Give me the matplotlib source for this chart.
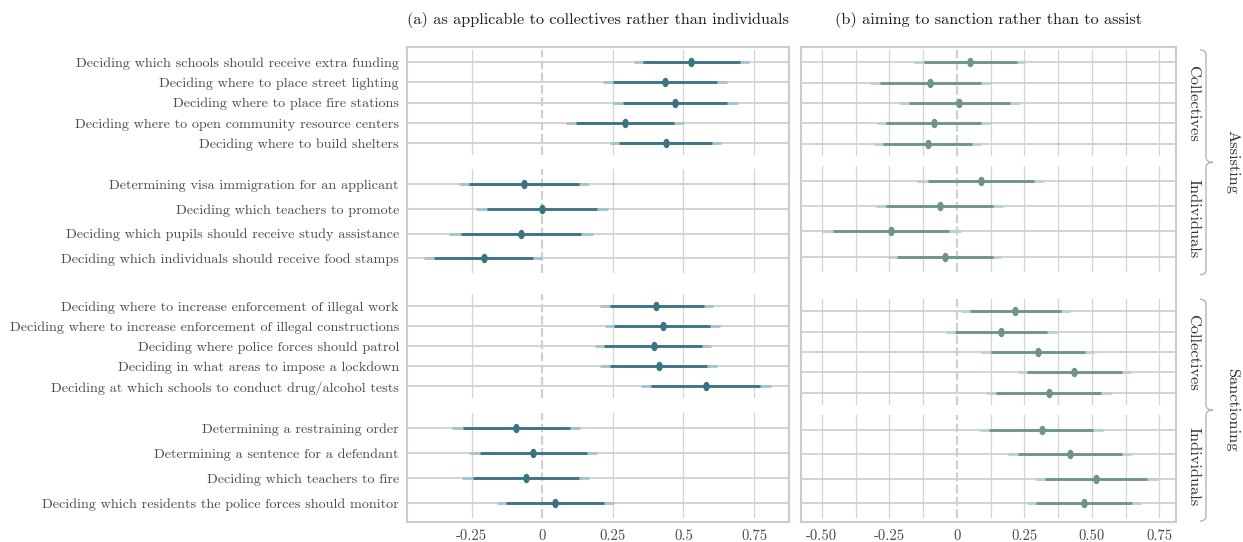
import numpy as np
import matplotlib
matplotlib.use("Agg")
import matplotlib.pyplot as plt
from matplotlib.path import Path
from matplotlib.patches import PathPatch

plt.rcParams['font.family'] = ['cmr10', 'DejaVu Serif']
plt.rcParams['axes.unicode_minus'] = False

# ---------------- data ----------------
tasks = [
    "Deciding which schools should receive extra funding",
    "Deciding where to place street lighting",
    "Deciding where to place fire stations",
    "Deciding where to open community resource centers",
    "Deciding where to build shelters",
    "Determining visa immigration for an applicant",
    "Deciding which teachers to promote",
    "Deciding which pupils should receive study assistance",
    "Deciding which individuals should receive food stamps",
    "Deciding where to increase enforcement of illegal work",
    "Deciding where to increase enforcement of illegal constructions",
    "Deciding where police forces should patrol",
    "Deciding in what areas to impose a lockdown",
    "Deciding at which schools to conduct drug/alcohol tests",
    "Determining a restraining order",
    "Determining a sentence for a defendant",
    "Deciding which teachers to fire",
    "Deciding which residents the police forces should monitor",
]
group_sizes = [5, 4, 5, 4]
domains = ["Assisting", "Sanctioning"]
targets = ["Collectives", "Individuals"]

titles = ["(a) as applicable to collectives rather than individuals",
          "(b) aiming to sanction rather than to assist"]

# panel (a): collective vs individual
a_mid = [0.528, 0.435, 0.470, 0.293, 0.437, -0.066, -0.001, -0.076, -0.208,
         0.404, 0.426, 0.394, 0.413, 0.579, -0.093, -0.033, -0.059, 0.046]
a_in_lo = [0.356, 0.249, 0.285, 0.118, 0.273, -0.260, -0.197, -0.290, -0.384,
           0.238, 0.255, 0.220, 0.239, 0.385, -0.283, -0.223, -0.247, -0.129]
a_in_hi = [0.701, 0.618, 0.656, 0.467, 0.602, 0.128, 0.195, 0.137, -0.034,
           0.571, 0.595, 0.565, 0.585, 0.772, 0.096, 0.157, 0.130, 0.220]
a_out_lo = [0.323, 0.213, 0.249, 0.084, 0.241, -0.297, -0.235, -0.331, -0.420,
            0.204, 0.223, 0.187, 0.204, 0.349, -0.319, -0.260, -0.285, -0.162]
a_out_hi = [0.733, 0.654, 0.693, 0.501, 0.632, 0.164, 0.232, 0.178, -0.002,
            0.604, 0.628, 0.599, 0.618, 0.810, 0.132, 0.193, 0.164, 0.253]

# panel (b): sanction vs assist
b_mid = [0.049, -0.098, 0.010, -0.085, -0.107, 0.089, -0.062, -0.243, -0.043,
         0.217, 0.165, 0.301, 0.436, 0.340, 0.314, 0.420, 0.516, 0.472]
b_in_lo = [-0.123, -0.284, -0.178, -0.262, -0.274, -0.106, -0.262, -0.459, -0.222,
           0.049, -0.006, 0.127, 0.259, 0.144, 0.121, 0.226, 0.326, 0.294]
b_in_hi = [0.222, 0.089, 0.198, 0.091, 0.058, 0.285, 0.136, -0.028, 0.133,
           0.385, 0.336, 0.474, 0.611, 0.535, 0.504, 0.611, 0.704, 0.648]
b_out_lo = [-0.158, -0.321, -0.215, -0.296, -0.306, -0.146, -0.299, -0.500, -0.254,
            0.015, -0.040, 0.091, 0.226, 0.107, 0.084, 0.189, 0.290, 0.259]
b_out_hi = [0.254, 0.123, 0.235, 0.123, 0.091, 0.323, 0.173, 0.015, 0.165,
            0.420, 0.370, 0.509, 0.644, 0.572, 0.541, 0.648, 0.744, 0.681]

a_ticks = [-0.25, 0, 0.25, 0.5, 0.75]
a_ticklabels = ["-0.25", "0", "0.25", "0.5", "0.75"]
b_ticks = [-0.5, -0.25, 0, 0.25, 0.5, 0.75]
b_ticklabels = ["-0.50", "-0.25", "0", "0.25", "0.50", "0.75"]

# ---------------- layout ----------------
W, H = 1243, 542
fig = plt.figure(figsize=(W / 100, H / 100), dpi=100)


def rect(x0, y0, x1, y1):
    return [x0 / W, 1 - y1 / H, (x1 - x0) / W, (y1 - y0) / H]


panels = [
    dict(x=(407, 789), frame_y=(46.7, 521.7),
         facets=[(50, 155), (169.3, 273.3), (294, 398.3), (413.3, 518)],
         xlim=(-0.48, 0.874), grid=a_ticks, minor=None,
         ticks=a_ticks, ticklabels=a_ticklabels,
         dark="#3a7483", light="#a6c3c9",
         data=(a_mid, a_in_lo, a_in_hi, a_out_lo, a_out_hi), ylabels=True),
    dict(x=(801, 1176), frame_y=(47.3, 521.7),
         facets=[(50, 156), (166, 271.7), (299.3, 405), (415, 518)],
         xlim=(-0.577, 0.812), grid=b_ticks,
         minor=[-0.375, -0.125, 0.125, 0.375, 0.625],
         ticks=b_ticks, ticklabels=b_ticklabels,
         dark="#6e9580", light="#bcd2c5",
         data=(b_mid, b_in_lo, b_in_hi, b_out_lo, b_out_hi), ylabels=False),
]

t = np.linspace(0, 2 * np.pi, 60)
ellipse = Path(np.column_stack([0.68 * np.cos(t), np.sin(t)]), closed=True)

label_color = "#4a4a4a"
grid_col = "#d3d3d3"

starts = np.cumsum([0] + group_sizes[:-1])

for pi, p in enumerate(panels):
    x0, x1 = p["x"]
    mid, in_lo, in_hi, out_lo, out_hi = [np.asarray(v) for v in p["data"]]
    for gi, (fy0, fy1) in enumerate(p["facets"]):
        ax = fig.add_axes(rect(x0, fy0, x1, fy1))
        ax.set_facecolor("none")
        for s in ax.spines.values():
            s.set_visible(False)
        n = group_sizes[gi]
        sl = slice(starts[gi], starts[gi] + n)
        ypos = np.arange(n)
        ax.set_xlim(*p["xlim"])
        ax.set_ylim(n - 1 + 0.6, -0.6)
        # vertical gridlines
        for g in p["grid"]:
            if g == 0:
                continue
            ax.axvline(g, color=grid_col, lw=0.9, zorder=0)
        if p["minor"]:
            for g in p["minor"]:
                ax.axvline(g, color=grid_col, lw=0.9, zorder=0)
        ax.axvline(0, color="#d0d0d0", lw=1.6, ls=(0, (4, 1.5)), zorder=0.5)
        # horizontal row lines
        for y in ypos:
            ax.axhline(y, color="#d0d0d0", lw=1.3, zorder=0.6)
        # intervals
        ax.hlines(ypos, out_lo[sl], out_hi[sl], color=p["light"], lw=2.0, zorder=2)
        ax.hlines(ypos, in_lo[sl], in_hi[sl], color=p["dark"], lw=2.0, zorder=3)
        ax.plot(mid[sl], ypos, ls="none", marker=ellipse, markersize=6.8,
                color=p["dark"], markeredgewidth=0, zorder=4)
        ax.set_xticks([])
        if p["ylabels"]:
            ax.set_yticks(ypos)
            ax.set_yticklabels(tasks[sl], fontsize=10.2, color=label_color)
            ax.tick_params(axis="y", length=0, pad=5.8)
        else:
            ax.set_yticks([])

    # frame axes
    fy0, fy1 = p["frame_y"]
    fr = fig.add_axes(rect(x0, fy0, x1, fy1), zorder=5)
    fr.set_facecolor("none")
    fr.set_xlim(*p["xlim"])
    fr.set_yticks([])
    fr.set_xticks(p["ticks"])
    fr.set_xticklabels(p["ticklabels"], fontsize=10.5, color=label_color)
    fr.tick_params(axis="x", length=0, pad=5.5)
    for s in fr.spines.values():
        s.set_color("#cccccc")
        s.set_linewidth(1.5)
    fig.text(((x0 + x1) / 2) / W, 1 - 20 / H, titles[pi], ha="center",
             va="center", fontsize=11.7, color="#1a1a1a")

# ---------------- strips & brackets on the right ----------------
right = panels[1]
for di, dom in enumerate(domains):
    fa = right["facets"][2 * di]
    fb = right["facets"][2 * di + 1]
    for k, (fy0, fy1) in enumerate([fa, fb]):
        fig.text(1193 / W, 1 - ((fy0 + fy1) / 2) / H, targets[k], rotation=270,
                 ha="center", va="center", fontsize=11.8, color="#333333")
    top = fa[0]
    bot = fb[1] + 3
    midy = (top + bot) / 2
    xl, xv, xn = 1200, 1206, 1213
    verts = [(xl, top), (xv, top), (xv, top + 5),
             (xv, midy - 5),
             (xv, midy), (xn, midy),
             (xv, midy), (xv, midy + 5),
             (xv, bot - 5),
             (xv, bot), (xl, bot)]
    codes = [Path.MOVETO, Path.CURVE3, Path.CURVE3,
             Path.LINETO,
             Path.CURVE3, Path.CURVE3,
             Path.CURVE3, Path.CURVE3,
             Path.LINETO,
             Path.CURVE3, Path.CURVE3]
    verts_fig = [(vx / W, 1 - vy / H) for vx, vy in verts]
    patch = PathPatch(Path(verts_fig, codes), transform=fig.transFigure,
                      facecolor="none", edgecolor="#b5b5b5", lw=1.0)
    fig.add_artist(patch)
    fig.text(1232 / W, 1 - midy / H, dom, rotation=270, ha="center",
             va="center", fontsize=11.8, color="#333333")

fig.savefig("out.png", dpi=100)
